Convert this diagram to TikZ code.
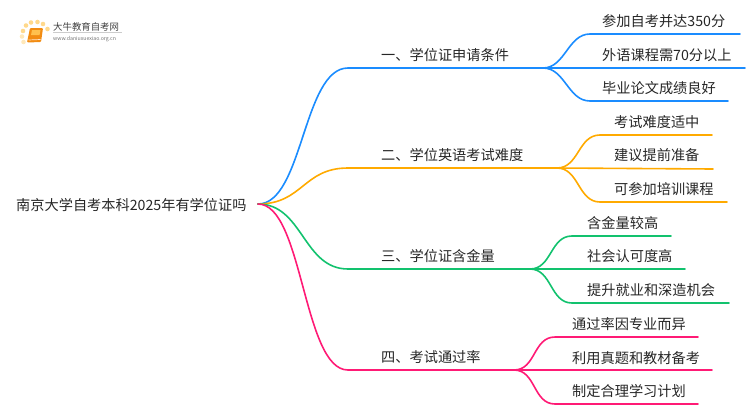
\documentclass[tikz,border=0pt]{standalone}
\usepackage{fontspec}
\setmainfont{Noto Sans CJK SC}
\usepackage{tikz}

\tikzset{
  lab/.style={anchor=west,inner sep=0pt,text=black!85,font=\fontsize{14.2}{16}\selectfont},
  line/.style={line width=1.6pt,line cap=round},
  dot/.style={circle,fill=#1,inner sep=0pt,minimum size=4.6pt},
}
\definecolor{blueb}{HTML}{1A8CFF}
\definecolor{orangeb}{HTML}{FFAA00}
\definecolor{greenb}{HTML}{12C26E}
\definecolor{pinkb}{HTML}{FF1A75}
\definecolor{bookb}{HTML}{F28C12}
\definecolor{bookl}{HTML}{FFC04D}
\definecolor{dotb}{HTML}{FFD98C}

\begin{document}
\begin{tikzpicture}[x=1pt,y=-1pt]
\useasboundingbox (0,0) rectangle (750,410);
\node [lab] (root) at (16,205) {南京大学自考本科2025年有学位证吗};
\coordinate (o) at (258,204);

% branches
\node [lab] (a) at (381,55) {一、学位证申请条件};
\node [lab] (b) at (381,155) {二、学位英语考试难度};
\node [lab] (c) at (381,256) {三、学位证含金量};
\node [lab] (d) at (381,357) {四、考试通过率};
\coordinate (as) at (348,68);  \coordinate (ae) at (543,68);
\coordinate (bs) at (348,168); \coordinate (be) at (557,168);
\coordinate (cs) at (348,269); \coordinate (ce) at (530,269);
\coordinate (ds) at (348,370); \coordinate (de) at (514,370);

% leaves
\node [lab] (a1) at (602,21) {参加自考并达350分};
\node [lab] (a2) at (602,55) {外语课程需70分以上};
\node [lab] (a3) at (602,88) {毕业论文成绩良好};
\node [lab] (b1) at (614,122) {考试难度适中};
\node [lab] (b2) at (614,155) {建议提前准备};
\node [lab] (b3) at (614,189) {可参加培训课程};
\node [lab] (c1) at (587,223) {含金量较高};
\node [lab] (c2) at (587,256) {社会认可度高};
\node [lab] (c3) at (587,290) {提升就业和深造机会};
\node [lab] (d1) at (572,324) {通过率因专业而异};
\node [lab] (d2) at (572,358) {利用真题和教材备考};
\node [lab] (d3) at (572,391) {制定合理学习计划};
\coordinate (a1s) at (590,34);  \coordinate (a1e) at (740,34);
\coordinate (a2e) at (745,68);
\coordinate (a3s) at (590,101); \coordinate (a3e) at (728,101);
\coordinate (b1s) at (600,135); \coordinate (b1e) at (712,135);
\coordinate (b2e) at (713,169);
\coordinate (b3s) at (600,202); \coordinate (b3e) at (727,202);
\coordinate (c1s) at (572,236); \coordinate (c1e) at (671,236);
\coordinate (c2e) at (685,269);
\coordinate (c3s) at (572,303); \coordinate (c3e) at (729,303);
\coordinate (d1s) at (555,337); \coordinate (d1e) at (698,337);
\coordinate (d2e) at (712,370);
\coordinate (d3s) at (555,404); \coordinate (d3e) at (698,404);

% connectors
\draw [line,blueb] (ae) .. controls +(22,0) and +(-22,0) .. (a1s) -- (a1e);
\draw [line,blueb] (ae) -- (a2e);
\draw [line,blueb] (ae) .. controls +(22,0) and +(-22,0) .. (a3s) -- (a3e);
\draw [line,orangeb] (be) .. controls +(22,0) and +(-22,0) .. (b1s) -- (b1e);
\draw [line,orangeb] (be) -- (b2e);
\draw [line,orangeb] (be) .. controls +(22,0) and +(-22,0) .. (b3s) -- (b3e);
\draw [line,greenb] (ce) .. controls +(22,0) and +(-22,0) .. (c1s) -- (c1e);
\draw [line,greenb] (ce) -- (c2e);
\draw [line,greenb] (ce) .. controls +(22,0) and +(-22,0) .. (c3s) -- (c3e);
\draw [line,pinkb] (de) .. controls +(22,0) and +(-22,0) .. (d1s) -- (d1e);
\draw [line,pinkb] (de) -- (d2e);
\draw [line,pinkb] (de) .. controls +(22,0) and +(-22,0) .. (d3s) -- (d3e);
\draw [line,blueb] (o) .. controls +(45,0) and +(-45,0) .. (as) -- (ae);
\draw [line,orangeb] (o) .. controls +(45,0) and +(-45,0) .. (bs) -- (be);
\draw [line,greenb] (o) .. controls +(45,0) and +(-45,0) .. (cs) -- (ce);
\draw [line,pinkb] (o) .. controls +(45,0) and +(-45,0) .. (ds) -- (de);

% logo
\fill [bookb,rounded corners=1pt] (30,28) -- (43,28) -- (41,42) -- (27,42.5) -- cycle;
\fill [bookl] (32,30) -- (40.5,30) -- (39.5,35) -- (31,35) -- cycle;
\draw [white!80!orange,line width=0.7pt] (28.5,40) -- (40.5,39.5);
\node [dot=dotb] (s1) at (23,31) {};
\node [dot=dotb] (s2) at (26,25.5) {};
\node [dot=dotb] (s3) at (31,22.5) {};
\node [dot=dotb] (s4) at (37.5,22) {};
\node [dot=dotb] (s5) at (43,24) {};
\node [dot=dotb] (s6) at (47.5,29) {};
\node [dot=dotb!60] (s7) at (22,36.5) {};
\node [dot=dotb!60] (s8) at (23.5,42) {};
\node [anchor=west,inner sep=0pt,text=black!75,font=\fontsize{9.4}{10}\selectfont] (logo) at (53,26.5) {大牛教育自考网};
\draw [black!20,line width=0.6pt] (53,32.5) -- (122,32.5);
\node [anchor=west,inner sep=0pt,text=black!55,font=\fontsize{5.2}{6}\selectfont] (url) at (53,39) {www.daniuxuexiao.org.cn};
\end{tikzpicture}
\end{document}
